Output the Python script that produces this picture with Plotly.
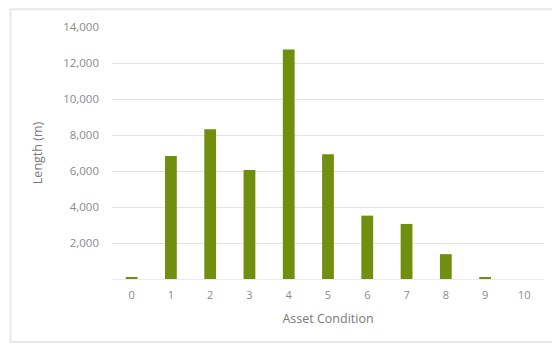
import plotly.graph_objects as go

categories = ["0", "1", "2", "3", "4", "5", "6", "7", "8", "9", "10"]
lengths = [80, 6830, 8320, 6050, 12750, 6930, 3520, 3060, 1380, 60, 0]
y_ticks = [0, 2000, 4000, 6000, 8000, 10000, 12000, 14000]
y_tick_labels = ["", "2,000", "4,000", "6,000", "8,000", "10,000", "12,000", "14,000"]

fig = go.Figure()
fig.add_trace(go.Bar(
    x=categories, y=lengths,
    marker=dict(color="#718e0e", line=dict(width=0)),
    width=0.3,
))

font_family = "Open Sans, Liberation Sans, sans-serif"
fig.update_layout(
    width=552, height=344,
    margin=dict(l=112, r=8, t=27, b=65),
    paper_bgcolor="white", plot_bgcolor="white",
    showlegend=False,
    font=dict(family=font_family, size=11, color="#777777"),
    xaxis=dict(
        type="category",
        title=dict(text="Asset Condition", font=dict(size=12.5, color="#7a7a7a"), standoff=13),
        showgrid=False, showline=True, linecolor="#ebebeb", linewidth=1,
        ticks="", tickfont=dict(size=11, color="#8a8a8a"),
        ticklabelstandoff=6,
    ),
    yaxis=dict(
        range=[0, 14000],
        tickvals=y_ticks, ticktext=y_tick_labels,
        showgrid=True, gridcolor="#e3e3e3", gridwidth=1,
        zeroline=False, showline=False, ticks="",
        tickfont=dict(size=11.5, color="#8a8a8a"),
        ticklabelstandoff=12,
        title=dict(text="Length (m)", font=dict(size=12.5, color="#7a7a7a"), standoff=17),
    ),
)

fig.add_shape(type="rect", xref="paper", yref="paper",
              x0=-0.235, x1=1.03, y0=-0.25, y1=1.07,
              line=dict(color="#e8e8e8", width=2), layer="below")

fig.write_html("out.html")
